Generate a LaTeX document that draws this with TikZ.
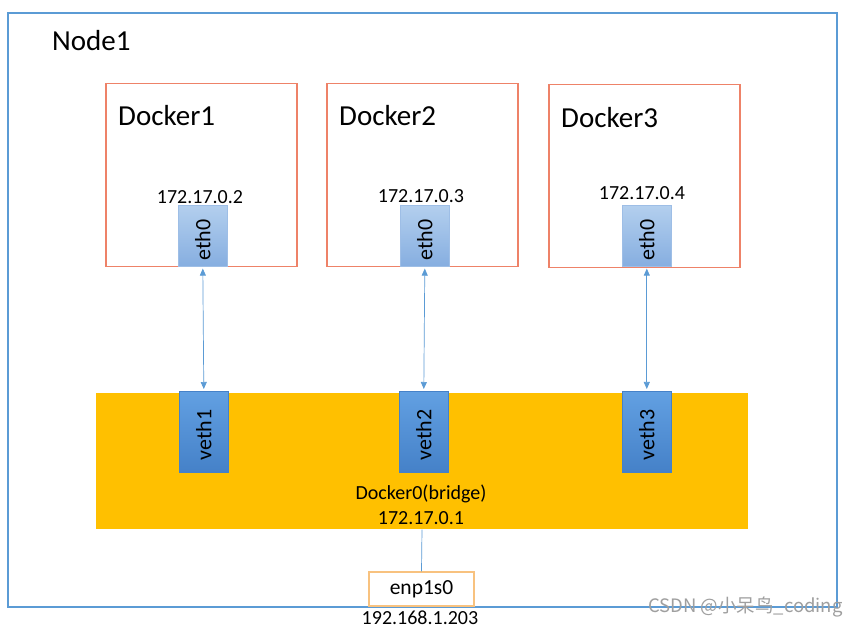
\documentclass[tikz,border=0pt]{standalone}
\usepackage{fontspec}
\setmainfont{Carlito}
\newfontfamily\cjkfont{Noto Sans CJK SC}
\usetikzlibrary{arrows.meta}
\definecolor{nodeblue}{HTML}{5B9BD5}
\definecolor{dockred}{HTML}{EE8268}
\definecolor{ethtop}{HTML}{B3CFEE}
\definecolor{ethbot}{HTML}{86AEE0}
\definecolor{vethtop}{HTML}{62A0E2}
\definecolor{vethbot}{HTML}{4581C8}
\definecolor{bridgeorange}{HTML}{FFC000}
\definecolor{enpline}{HTML}{F8C27F}
\begin{document}
\begin{tikzpicture}[x=1pt,y=-1pt,
  hostbox/.style={draw=nodeblue,line width=1.4pt},
  dockbox/.style={draw=dockred,line width=1.5pt,minimum width=191pt,minimum height=183pt,anchor=north west,inner sep=0pt},
  ethbox/.style={draw=ethbot!80!white,line width=0.6pt,top color=ethtop,bottom color=ethbot,minimum width=49pt,minimum height=61pt,anchor=north west,inner sep=0pt},
  vethbox/.style={draw=vethbot,line width=0.6pt,top color=vethtop,bottom color=vethbot,minimum width=49pt,minimum height=81pt,anchor=north west,inner sep=0pt},
  rottext/.style={rotate=90,font=\fontsize{22}{24}\selectfont,inner sep=0pt},
  iplabel/.style={font=\fontsize{20}{22}\selectfont,inner sep=0pt},
  bigtitle/.style={font=\fontsize{29}{32}\selectfont,inner sep=0pt,anchor=west},
  link/.style={draw=nodeblue,line width=0.7pt,{Triangle[length=7pt,width=6pt]}-{Triangle[length=7pt,width=6pt]}},
  plainlink/.style={draw=nodeblue,line width=0.7pt}
]
\useasboundingbox (0,0) rectangle (863,628);
\fill[white] (0,0) rectangle (863,628);
% host
\draw[hostbox] (8,13) rectangle (837,607);
\node[bigtitle] (node1) at (52,41) {Node1};
% bridge band
\fill[bridgeorange] (96,393) rectangle (748,529);
\node[minimum width=0pt,inner sep=0pt] (bridge) at (422,529) {};
% dockers
\node[dockbox] (d1) at (105,83) {};
\node[dockbox] (d2) at (326,83) {};
\node[dockbox] (d3) at (548,84) {};
\node[bigtitle] (t1) at (118,116) {Docker1};
\node[bigtitle] (t2) at (339,116) {Docker2};
\node[bigtitle] (t3) at (561,118) {Docker3};
\node[iplabel] (ip1) at (200,197) {172.17.0.2};
\node[iplabel] (ip2) at (421,196) {172.17.0.3};
\node[iplabel] (ip3) at (642,193) {172.17.0.4};
% eth0
\node[ethbox] (e1) at (178,205) {};
\node[ethbox] (e2) at (400,205) {};
\node[ethbox] (e3) at (622,205) {};
\node[rottext] at ([yshift=-4pt]e1.center) {eth0};
\node[rottext] at ([yshift=-4pt]e2.center) {eth0};
\node[rottext] at ([yshift=-4pt]e3.center) {eth0};
% veth
\node[vethbox] (v1) at (179,391) {};
\node[vethbox] (v2) at (399,391) {};
\node[vethbox] (v3) at (622,391) {};
\node[rottext] at ([yshift=-3pt]v1.center) {veth1};
\node[rottext] at ([yshift=-3pt]v2.center) {veth2};
\node[rottext] at ([yshift=-3pt]v3.center) {veth3};
% links
\draw[link] ([yshift=-2pt]e1.south) -- ([yshift=2pt]v1.north);
\draw[link] ([yshift=-2pt]e2.south) -- ([yshift=2pt]v2.north);
\draw[link] ([yshift=-2pt]e3.south) -- ([yshift=2pt]v3.north);
% bridge labels
\node[iplabel] (b1) at (421,494) {Docker0(bridge)};
\node[iplabel] (b2) at (421,518) {172.17.0.1};
% enp1s0
\node[draw=enpline,fill=white,line width=1.2pt,minimum width=105pt,minimum height=34pt,inner sep=0pt,font=\fontsize{21.5}{24}\selectfont] (enp) at (421.5,589) {enp1s0};
\draw[plainlink] (bridge) -- (enp.north);
\node[font=\fontsize{20}{22}\selectfont,inner sep=0pt] (enpip) at (420,618) {192.168.1.203};
% watermark
\node[font=\cjkfont\fontsize{18.5}{20}\selectfont,text=gray!75,inner sep=0pt,anchor=west] (wm) at (648,607) {CSDN @小呆鸟\_coding};
\end{tikzpicture}
\end{document}
